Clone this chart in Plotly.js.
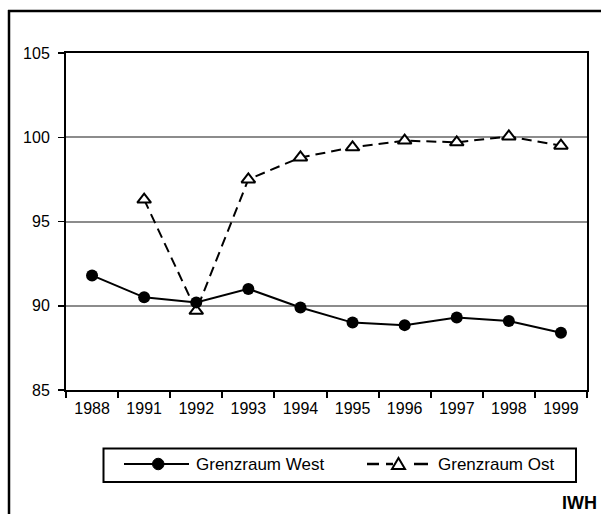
<!DOCTYPE html>
<html>
<head>
<meta charset="utf-8">
<script src="https://cdn.plot.ly/plotly-3.0.1.min.js"></script>
<style>html,body{margin:0;padding:0;background:#fff;overflow:hidden;}#chart{width:601px;height:514px;}</style>
</head>
<body>
<div id="chart"></div>
<script>
const years = ['1988','1991','1992','1993','1994','1995','1996','1997','1998','1999'];
const westValues = [91.8, 90.5, 90.2, 91.0, 89.9, 89.0, 88.85, 89.3, 89.1, 88.4];
const ostYears = ['1991','1992','1993','1994','1995','1996','1997','1998','1999'];
const ostValues = [96.3, 89.7, 97.5, 98.8, 99.4, 99.8, 99.7, 100.05, 99.5];
const westName = 'Grenzraum West';
const ostName = 'Grenzraum Ost';
const yTicks = [85, 90, 95, 100, 105];

// pixel -> paper helpers (plot area 66..587 x 53..390)
const L = 66, R = 587, T = 53, B = 390;
const px = v => (v - L) / (R - L);
const py = v => (B - v) / (B - T);

const FONT = 'Liberation Sans, Arial, sans-serif';

const traces = [
  {
    x: ostYears, y: ostValues, name: ostName, type: 'scatter', mode: 'lines+markers',
    line: {color: '#000', width: 2, dash: '10px,6px'},
    marker: {symbol: 'triangle-up', size: 12, color: '#fff', line: {color: '#000', width: 2}},
    cliponaxis: false
  },
  {
    x: years, y: westValues, name: westName, type: 'scatter', mode: 'lines+markers',
    line: {color: '#000', width: 2},
    marker: {symbol: 'circle', size: 12, color: '#000'},
    cliponaxis: false
  }
];

// legend built with shapes
const legY = 464;
const shapes = [
  // outer frame (left and top edges)
  {type: 'line', xref: 'paper', yref: 'paper', x0: px(9), x1: px(9), y0: py(514), y1: py(10),
   line: {color: '#000', width: 2.5}},
  {type: 'line', xref: 'paper', yref: 'paper', x0: px(8), x1: px(601), y0: py(11), y1: py(11),
   line: {color: '#000', width: 2.5}},
  // legend box
  {type: 'rect', xref: 'paper', yref: 'paper', x0: px(103.5), x1: px(576), y0: py(482), y1: py(448.5),
   line: {color: '#000', width: 2}, fillcolor: 'rgba(0,0,0,0)'},
  // west sample line
  {type: 'line', xref: 'paper', yref: 'paper', x0: px(124), x1: px(189), y0: py(legY), y1: py(legY),
   line: {color: '#000', width: 2}},
  {type: 'circle', xref: 'paper', yref: 'paper', x0: px(152.5), x1: px(164), y0: py(legY + 5.75), y1: py(legY - 5.75),
   line: {color: '#000', width: 1}, fillcolor: '#000'},
  // ost sample dashes
  {type: 'line', xref: 'paper', yref: 'paper', x0: px(367), x1: px(379), y0: py(legY), y1: py(legY),
   line: {color: '#000', width: 2.5}},
  {type: 'line', xref: 'paper', yref: 'paper', x0: px(414), x1: px(428), y0: py(legY), y1: py(legY),
   line: {color: '#000', width: 2.5}},
  {type: 'line', xref: 'paper', yref: 'paper', x0: px(386), x1: px(393), y0: py(legY), y1: py(legY),
   line: {color: '#000', width: 2.5}},
  {type: 'path', xref: 'paper', yref: 'paper',
   path: 'M' + px(392) + ',' + py(legY + 5) + ' L' + px(405) + ',' + py(legY + 5) + ' L' + px(398.5) + ',' + py(legY - 6) + ' Z',
   line: {color: '#000', width: 2}, fillcolor: '#fff'}
];

const annotations = [
  {xref: 'paper', yref: 'paper', x: px(194), y: py(legY), xanchor: 'left', yanchor: 'middle',
   text: westName, showarrow: false, font: {family: FONT, size: 17, color: '#000'}},
  {xref: 'paper', yref: 'paper', x: px(436), y: py(legY), xanchor: 'left', yanchor: 'middle',
   text: ostName, showarrow: false, font: {family: FONT, size: 17, color: '#000'}},
  {xref: 'paper', yref: 'paper', x: px(599), y: py(503), xanchor: 'right', yanchor: 'middle',
   text: '<b>IWH</b>', showarrow: false, font: {family: FONT, size: 18, color: '#000'}}
];

const layout = {
  width: 601, height: 514,
  margin: {l: L, r: 601 - R, t: T, b: 514 - B, pad: 0},
  paper_bgcolor: '#fff', plot_bgcolor: '#fff',
  showlegend: false,
  font: {family: FONT, size: 16, color: '#000'},
  xaxis: {
    type: 'category', categoryorder: 'array', categoryarray: years,
    range: [-0.5, years.length - 0.5],
    tickson: 'boundaries', ticks: 'outside', ticklen: 6, tickwidth: 2, tickcolor: '#000',
    showline: true, linecolor: '#000', linewidth: 2, mirror: true,
    showgrid: false, zeroline: false, ticklabelstandoff: 3,
    tickfont: {family: FONT, size: 16, color: '#000'}
  },
  yaxis: {
    range: [85, 105], tickvals: yTicks, ticktext: yTicks.map(String),
    ticks: 'outside', ticklen: 6, tickwidth: 1.5, tickcolor: '#000',
    showline: true, linecolor: '#000', linewidth: 2, mirror: true,
    showgrid: true, gridcolor: '#8c8c8c', gridwidth: 2, zeroline: false,
    ticklabelstandoff: 5,
    tickfont: {family: FONT, size: 16, color: '#000'}
  },
  shapes: shapes,
  annotations: annotations
};

Plotly.newPlot('chart', traces, layout, {staticPlot: true, displayModeBar: false});
</script>
</body>
</html>
